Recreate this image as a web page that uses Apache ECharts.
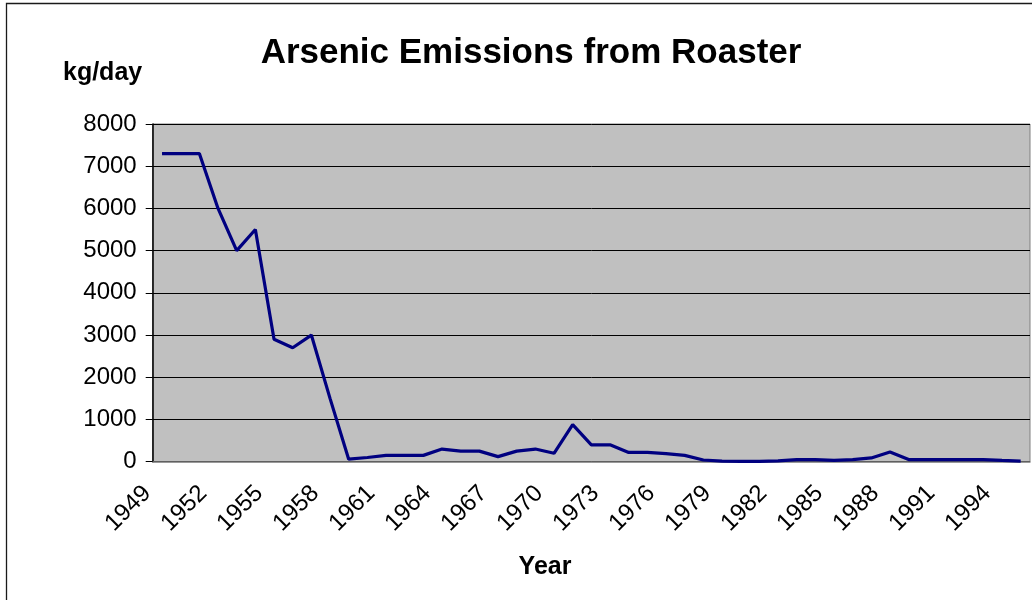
<!DOCTYPE html>
<html>
<head>
<meta charset="utf-8">
<title>Arsenic Emissions from Roaster</title>
<script src="https://cdn.jsdelivr.net/npm/echarts@6/dist/echarts.min.js"></script>
<style>
  html, body { margin: 0; padding: 0; background: #fff; }
  #chart { width: 1032px; height: 600px; }
</style>
</head>
<body>
<div id="chart"></div>
<script>
// years 1949..1995
const years = ['1949','1950','1951','1952','1953','1954','1955','1956','1957','1958',
  '1959','1960','1961','1962','1963','1964','1965','1966','1967','1968',
  '1969','1970','1971','1972','1973','1974','1975','1976','1977','1978',
  '1979','1980','1981','1982','1983','1984','1985','1986','1987','1988',
  '1989','1990','1991','1992','1993','1994','1995']

// kg/day
const emissions = [7300, 7300, 7300, 6000, 5000, 5500, 2900, 2700, 3000, 1500,
  60, 100, 150, 150, 150, 300, 250, 250, 120, 250,
  300, 200, 880, 400, 400, 220, 220, 190, 150, 40,
  15, 10, 10, 20, 50, 50, 30, 50, 90, 230,
  50, 50, 50, 50, 50, 30, 15]

const font = 'Liberation Sans, Arial, sans-serif'

const chart = echarts.init(document.getElementById('chart'))

const option = {
  animation: false,
  backgroundColor: '#fff',
  title: {
    text: 'Arsenic Emissions from Roaster',
    left: 526,
    top: 31,
    textAlign: 'center',
    textStyle: { fontFamily: font, fontSize: 35, fontWeight: 'bold', color: '#000' }
  },
  graphic: [
    {
      type: 'rect',
      shape: { x: 6.5, y: 3.5, width: 1200, height: 800 },
      style: { fill: null, stroke: '#1a1a1a', lineWidth: 1.3 },
      silent: true
    },
    {
      type: 'text',
      left: 63,
      top: 61,
      style: { text: 'kg/day', font: 'bold 25px ' + font, fill: '#000' }
    },
    {
      type: 'text',
      x: 545,
      y: 567,
      style: {
        text: 'Year', font: 'bold 25px ' + font, fill: '#000',
        align: 'center', verticalAlign: 'middle'
      }
    }
  ],
  grid: {
    left: 152.7,
    right: 2,
    top: 124,
    bottom: 138.3,
    show: true,
    backgroundColor: '#c0c0c0',
    borderColor: '#808080',
    borderWidth: 1
  },
  xAxis: {
    type: 'category',
    data: years,
    boundaryGap: true,
    axisLine: { lineStyle: { color: '#808080', width: 1.5 } },
    axisTick: { interval: 2, length: 7, lineStyle: { color: '#808080', width: 1.5 } },
    axisLabel: {
      interval: 2,
      rotate: 45,
      margin: 13,
      padding: [0, 21, 0, 0],
      fontFamily: font,
      fontSize: 24,
      color: '#000'
    }
  },
  yAxis: {
    type: 'value',
    min: 0,
    max: 8000,
    interval: 1000,
    axisLine: { show: true, lineStyle: { color: '#000', width: 1.5 } },
    axisTick: { show: true, length: 7, lineStyle: { color: '#000' } },
    axisLabel: {
      fontFamily: font,
      fontSize: 24,
      color: '#000',
      margin: 16,
      formatter: (v) => String(v)
    },
    splitLine: { lineStyle: { color: '#000', width: 1 } }
  },
  series: [
    {
      type: 'line',
      data: emissions,
      symbol: 'none',
      lineStyle: { color: '#000080', width: 3.2 }
    }
  ]
}

chart.setOption(option)
</script>
</body>
</html>
